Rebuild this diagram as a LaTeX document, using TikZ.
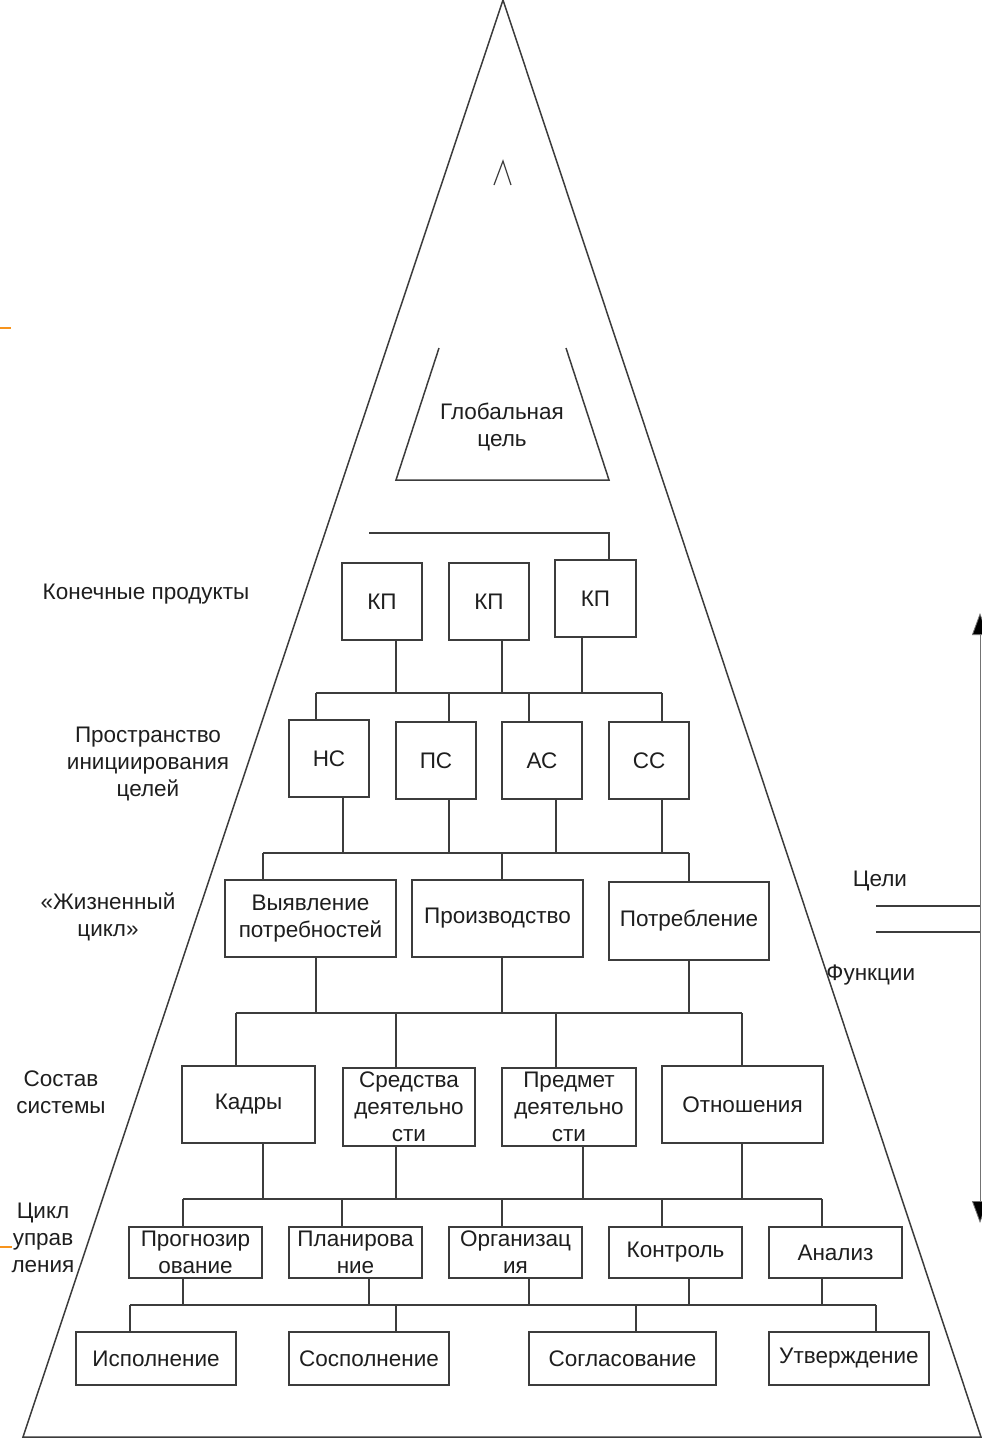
\documentclass[tikz,border=0pt]{standalone}
\usepackage{fontspec}
\setmainfont{Liberation Sans}
\usetikzlibrary{arrows.meta}
\definecolor{ln}{HTML}{3C3C3C}
\definecolor{tx}{HTML}{1E1E1E}
\definecolor{mk}{HTML}{F7941D}

\tikzset{
  wire/.style={draw=ln, line width=0.75pt},
  bx/.style={draw=ln, line width=0.75pt, fill=white, inner sep=0pt, align=center,
             text=tx, font=\fontsize{11.25pt}{13.5pt}\selectfont},
  lbl/.style={inner sep=0pt, align=center, text=tx, font=\fontsize{11.25pt}{13.5pt}\selectfont},
  tick/.style={draw=mk, line width=0.8pt},
}

% box given by its corners (x1,y1)-(x2,y2) in pixel units
\newcommand\blk[6]{\node[bx, minimum width={(#4-#2)*0.5pt}, minimum height={(#5-#3)*0.5pt}]
  (#1) at ({(#2+#4)/2},{(#3+#5)/2}) {#6};}
% vertical drop from a node anchor to a bus, at a given x
\newcommand\drop[3]{\coordinate (dx) at (#2,0); \draw[wire] (#1 -| dx) -- (#3 -| dx);}
% horizontal bus segment
\newcommand\busline[3]{\coordinate (bl) at (#2,0); \coordinate (br) at (#3,0);
  \draw[wire] (#1 -| bl) -- (#1 -| br);}

\begin{document}
\begin{tikzpicture}[x=0.5pt, y=-0.5pt]
\useasboundingbox (0,0) rectangle (981,1440);

% outer pyramid
\coordinate (apex) at (503,0);
\coordinate (bl0) at (23,1437);
\coordinate (br0) at (981,1437);
\draw[wire] (bl0) -- (apex) -- (br0) -- cycle;

% small caret near the apex
\draw[wire, line width=0.6pt] (494,185) -- (503,161) -- (511,185);

% global goal
\coordinate (g1) at (439,348);
\coordinate (g2) at (396,480);
\coordinate (g3) at (609,480);
\coordinate (g4) at (566,348);
\draw[wire] (g1) -- (g2) -- (g3) -- (g4);
\node[lbl] (glob) at (502,427) {Глобальная\\цель};

% level labels
\node[lbl] (l1) at (146,594) {Конечные продукты};
\node[lbl] (l2) at (148,764) {Пространство\\инициирования\\целей};
\node[lbl] (l3) at (108,917) {«Жизненный\\цикл»};
\node[lbl] (l4) at (61,1092) {Состав\\системы};
\node[lbl] (l5) at (43,1238) {Цикл\\управ\\ления};

% level 1: end products
\blk{kp1}{342}{563}{422}{640}{КП}
\blk{kp2}{449}{563}{529}{640}{КП}
\blk{kp3}{555}{560}{636}{637}{КП}
\coordinate (topl) at (369,533);
\coordinate (topr) at (609,533);
\draw[wire] (topl) -- (topr) -- (kp3.north -| topr);

% level 2
\blk{ns}{289}{720}{369}{797}{НС}
\blk{ps}{396}{722}{476}{799}{ПС}
\blk{as}{502}{722}{582}{799}{АС}
\blk{ss}{609}{722}{689}{799}{СС}

% level 3
\blk{vyav}{225}{880}{396}{957}{Выявление\\потребностей}
\blk{proizv}{412}{880}{583}{957}{Производство}
\blk{potr}{609}{882}{769}{960}{Потребление}

% level 4
\blk{kadry}{182}{1066}{315}{1143}{Кадры}
\blk{sredst}{343}{1068}{475}{1146}{Средства\\деятельно\\сти}
\blk{predm}{502}{1068}{636}{1146}{Предмет\\деятельно\\сти}
\blk{otn}{662}{1066}{823}{1143}{Отношения}

% level 5
\blk{prog}{129}{1227}{262}{1278}{Прогнозир\\ование}
\blk{plan}{289}{1227}{422}{1278}{Планирова\\ние}
\blk{org}{449}{1227}{582}{1278}{Организац\\ия}
\blk{kontr}{609}{1227}{742}{1278}{Контроль}
\blk{anal}{769}{1227}{902}{1278}{Анализ}

% level 6
\blk{isp}{76}{1332}{236}{1385}{Исполнение}
\blk{sosp}{289}{1332}{449}{1385}{Сосполнение}
\blk{sogl}{529}{1332}{716}{1385}{Согласование}
\blk{utv}{769}{1332}{929}{1385}{Утверждение}

% buses
\coordinate (busA) at (0,693);
\coordinate (busB) at (0,853);
\coordinate (busC) at (0,1013);
\coordinate (busD) at (0,1199);
\coordinate (busE) at (0,1305);

\busline{busA}{316}{662}
\drop{kp1.south}{396}{busA} \drop{kp2.south}{502}{busA} \drop{kp3.south}{582}{busA}
\drop{ns.north}{316}{busA} \drop{ps.north}{449}{busA} \drop{as.north}{529}{busA} \drop{ss.north}{662}{busA}

\busline{busB}{263}{689}
\drop{ns.south}{343}{busB} \drop{ps.south}{449}{busB} \drop{as.south}{556}{busB} \drop{ss.south}{662}{busB}
\drop{vyav.north}{263}{busB} \drop{proizv.north}{502}{busB} \drop{potr.north}{689}{busB}

\busline{busC}{236}{742}
\drop{vyav.south}{316}{busC} \drop{proizv.south}{502}{busC} \drop{potr.south}{689}{busC}
\drop{kadry.north}{236}{busC} \drop{sredst.north}{396}{busC} \drop{predm.north}{556}{busC} \drop{otn.north}{742}{busC}

\busline{busD}{183}{822}
\drop{kadry.south}{263}{busD} \drop{sredst.south}{396}{busD} \drop{predm.south}{583}{busD} \drop{otn.south}{742}{busD}
\drop{prog.north}{183}{busD} \drop{plan.north}{342}{busD} \drop{org.north}{502}{busD} \drop{kontr.north}{662}{busD} \drop{anal.north}{822}{busD}

\busline{busE}{130}{876}
\drop{prog.south}{183}{busE} \drop{plan.south}{369}{busE} \drop{org.south}{529}{busE} \drop{kontr.south}{689}{busE} \drop{anal.south}{822}{busE}
\drop{isp.north}{130}{busE} \drop{sosp.north}{396}{busE} \drop{sogl.north}{636}{busE} \drop{utv.north}{876}{busE}

% goals / functions scale on the right
\node[lbl] (goals) at (880,881) {Цели};
\node[lbl, anchor=west] (funcs) at (826,975) {Функции};
\coordinate (c1a) at (876,906); \coordinate (c1b) at (981,906);
\coordinate (c2a) at (876,932); \coordinate (c2b) at (981,932);
\draw[wire, line width=0.6pt] (c1a) -- (c1b);
\draw[wire, line width=0.6pt] (c2a) -- (c2b);
\coordinate (ax1) at (980,613);
\coordinate (ax2) at (980,1223);
\draw[draw=black!55, line width=0.4pt, {Triangle[width=8pt,length=11pt,fill=black]}-{Triangle[width=8pt,length=11pt,fill=black]}] (ax1) -- (ax2);

% short orange ticks at the left border
\coordinate (t1a) at (0,328); \coordinate (t1b) at (11,328);
\coordinate (t2a) at (0,1247); \coordinate (t2b) at (12,1247);
\draw[tick] (t1a) -- (t1b);
\draw[tick] (t2a) -- (t2b);
\end{tikzpicture}
\end{document}
